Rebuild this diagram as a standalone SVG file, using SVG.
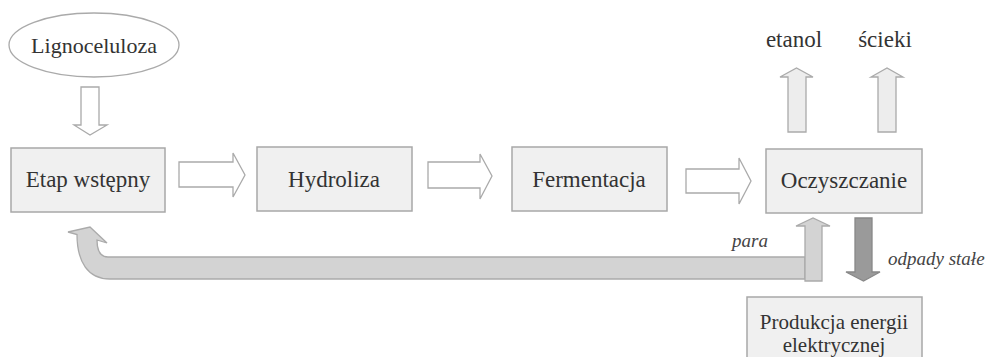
<svg xmlns="http://www.w3.org/2000/svg" width="996" height="357" viewBox="0 0 996 357">
<rect width="996" height="357" fill="#fff"/>
<g id="lignoceluloza">
<ellipse cx="94" cy="45" rx="85" ry="32" fill="#fff" stroke="#aaa" stroke-width="1.3"/>
<text x="94" y="53" font-family="'Liberation Serif', serif" font-size="22" fill="#333" text-anchor="middle">Lignoceluloza</text>
</g>
<g id="etap">
<rect x="11" y="148" width="154" height="64" fill="#f0f0f0" stroke="#a8a8a8" stroke-width="1.5"/>
<text x="88" y="187" font-family="'Liberation Serif', serif" font-size="23" fill="#333" text-anchor="middle">Etap wstępny</text>
</g>
<g id="hydroliza">
<rect x="257" y="147" width="155" height="64" fill="#f0f0f0" stroke="#a8a8a8" stroke-width="1.5"/>
<text x="334" y="187" font-family="'Liberation Serif', serif" font-size="23" fill="#333" text-anchor="middle">Hydroliza</text>
</g>
<g id="fermentacja">
<rect x="512" y="147" width="155" height="64" fill="#f0f0f0" stroke="#a8a8a8" stroke-width="1.5"/>
<text x="589" y="187" font-family="'Liberation Serif', serif" font-size="23" fill="#333" text-anchor="middle">Fermentacja</text>
</g>
<g id="oczyszczanie">
<rect x="766" y="149" width="156" height="64" fill="#f0f0f0" stroke="#a8a8a8" stroke-width="1.5"/>
<text x="844" y="188" font-family="'Liberation Serif', serif" font-size="23" fill="#333" text-anchor="middle">Oczyszczanie</text>
</g>
<g id="produkcja">
<rect x="747" y="297" width="175" height="70" fill="#f0f0f0" stroke="#a8a8a8" stroke-width="1.5"/>
<text x="834" y="329" font-family="'Liberation Serif', serif" font-size="21" fill="#333" text-anchor="middle">Produkcja energii</text>
<text x="834" y="352" font-family="'Liberation Serif', serif" font-size="21" fill="#333" text-anchor="middle">elektrycznej</text>
</g>
<g id="outputs">
<text x="794" y="47" font-family="'Liberation Serif', serif" font-size="23" fill="#333" text-anchor="middle">etanol</text>
<text x="885" y="47" font-family="'Liberation Serif', serif" font-size="23" fill="#333" text-anchor="middle">ścieki</text>
<text x="732" y="247" font-family="'Liberation Serif', serif" font-size="19" font-style="italic" fill="#444">para</text>
<text x="888" y="265" font-family="'Liberation Serif', serif" font-size="19" font-style="italic" fill="#444">odpady stałe</text>
</g>
<g id="connectors" stroke-width="1.3">
<path d="M81,87 H99 V125 H107 L90,135 L74,125 H81 Z" fill="#fff" stroke="#aaa"/>
<path d="M179,162 H233 V153 L245,175 L233,197 V187 H179 Z" fill="#fff" stroke="#aaa"/>
<path d="M428,162 H480 V154 L492,176 L480,199 V188 H428 Z" fill="#fff" stroke="#aaa"/>
<path d="M686,169 H739 V158 L751,181 L739,204 V193 H686 Z" fill="#fff" stroke="#aaa"/>
<path d="M788,132 V77 H780 L796.5,68 L813,77 H806 V132 Z" fill="#ededed" stroke="#aaa"/>
<path d="M878,132 V77 H871 L887,68 L903,77 H896 V132 Z" fill="#ededed" stroke="#aaa"/>
<path d="M805,257 L108,257 Q97,257 97,240 L107,243 L90,227 L68,232 L77,234.5 C77,262 88,279 110,279 L805,279 Z" fill="#d3d3d3" stroke="#aaa"/>
<path d="M805,281 V226 H796 L813,218 L830,226 H822 V281 Z" fill="#d3d3d3" stroke="#aaa"/>
<path d="M855,218 H872 V272 H880 L863.5,281 L846,272 H855 Z" fill="#9a9a9a" stroke="#888"/>
</g>
</svg>
